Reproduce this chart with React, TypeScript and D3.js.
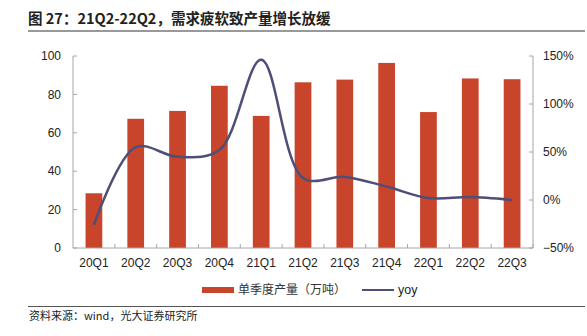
import React from "react";
import * as d3 from "d3";

const categories = ["20Q1", "20Q2", "20Q3", "20Q4", "21Q1", "21Q2", "21Q3", "21Q4", "22Q1", "22Q2", "22Q3"];
const production = [28.5, 67.3, 71.4, 84.5, 68.8, 86.3, 87.7, 96.4, 70.8, 88.3, 87.9];
const yoy = [-0.26, 0.55, 0.45, 0.52, 1.46, 0.23, 0.24, 0.14, 0.02, 0.03, 0.0];
const leftTicks = [0, 20, 40, 60, 80, 100];
const rightTicks = [-0.5, 0, 0.5, 1.0, 1.5];

const W = 587;
const H = 336;
const plot = { left: 73, right: 533, top: 56, bottom: 248 };
const font = "'Liberation Sans', Arial, sans-serif";
const cjk = "'Noto Sans CJK SC', sans-serif";
const axisColor = "#a6a6a6";
const barColor = "#C8442A";
const lineColor = "#4E4E78";

export default function App() {
  const x = d3.scaleBand<string>().domain(categories).range([plot.left, plot.right]).paddingInner(0.6).paddingOuter(0.3);
  const xc = (c: string) => (x(c) as number) + x.bandwidth() / 2;
  const step = (plot.right - plot.left) / categories.length;
  const yL = d3.scaleLinear().domain([0, 100]).range([plot.bottom, plot.top]);
  const yR = d3.scaleLinear().domain([-0.5, 1.5]).range([plot.bottom, plot.top]);
  const line = d3
    .line<number>()
    .x((_, i) => xc(categories[i]))
    .y((d) => yR(d))
    .curve(d3.curveCatmullRom.alpha(0.5));

  return (
    <svg width={W} height={H} style={{ position: "absolute", left: 0, top: 0 }}>
      <rect width={W} height={H} fill="#fff" />
      <text x={28} y={24} fontFamily={cjk} fontWeight="bold" fontSize={14.5} fill="#222">
        图 27：21Q2-22Q2，需求疲软致产量增长放缓
      </text>
      <line x1={28} x2={585} y1={31} y2={31} stroke="#777" strokeWidth={1.5} />

      {production.map((v, i) => (
        <rect
          key={categories[i]}
          x={x(categories[i])}
          y={yL(v)}
          width={x.bandwidth()}
          height={plot.bottom - yL(v)}
          fill={barColor}
        />
      ))}

      <path d={line(yoy) || ""} fill="none" stroke={lineColor} strokeWidth={2.5} />

      {/* left axis */}
      <line x1={plot.left} x2={plot.left} y1={plot.top} y2={plot.bottom} stroke={axisColor} />
      {leftTicks.map((t) => (
        <g key={"l" + t}>
          <line x1={plot.left} x2={plot.left + 4} y1={yL(t)} y2={yL(t)} stroke={axisColor} />
          <text x={61} y={yL(t)} dy="0.35em" textAnchor="end" fontFamily={font} fontSize={12} fill="#222">
            {t}
          </text>
        </g>
      ))}

      {/* right axis */}
      <line x1={plot.right} x2={plot.right} y1={plot.top} y2={plot.bottom} stroke={axisColor} />
      {rightTicks.map((t) => (
        <g key={"r" + t}>
          <line x1={plot.right - 4} x2={plot.right} y1={yR(t)} y2={yR(t)} stroke={axisColor} />
          <text x={543} y={yR(t)} dy="0.35em" textAnchor="start" fontFamily={font} fontSize={12} fill="#222">
            {d3.format(".0%")(t)}
          </text>
        </g>
      ))}

      {/* bottom axis */}
      <line x1={plot.left} x2={plot.right} y1={plot.bottom} y2={plot.bottom} stroke={axisColor} />
      {categories.map((c, i) => (
        <g key={"b" + c}>
          <line
            x1={plot.left + step * (i + 1)}
            x2={plot.left + step * (i + 1)}
            y1={plot.bottom}
            y2={plot.bottom - 4}
            stroke={axisColor}
          />
          <text x={xc(c)} y={263} dy="0.35em" textAnchor="middle" fontFamily={font} fontSize={12} fill="#222">
            {c}
          </text>
        </g>
      ))}

      {/* legend */}
      <rect x={202} y={287} width={32} height={6} fill={barColor} />
      <text x={238} y={290} dy="0.35em" fontFamily={cjk} fontSize={12} fill="#333">
        单季度产量（万吨）
      </text>
      <line x1={362} x2={394} y1={290} y2={290} stroke={lineColor} strokeWidth={2} />
      <text x={398} y={290} dy="0.35em" fontFamily={font} fontSize={12.5} fill="#222">
        yoy
      </text>

      <line x1={28} x2={585} y1={306.5} y2={306.5} stroke="#555" strokeWidth={1} />
      <text x={29} y={316} dy="0.35em" fontFamily={cjk} fontSize={11} fill="#222">
        资料来源：wind，光大证券研究所
      </text>
    </svg>
  );
}
